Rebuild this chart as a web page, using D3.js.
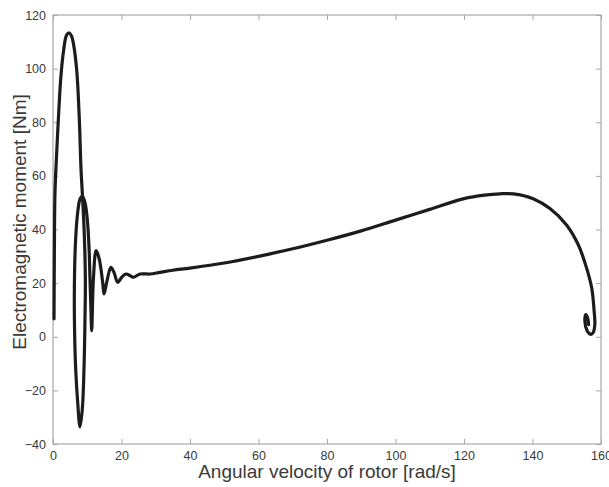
<!DOCTYPE html>
<html>
<head>
<meta charset="utf-8">
<script src="https://cdn.jsdelivr.net/npm/d3@7"></script>
<style>
  body { margin: 0; background: #fff; }
  svg { display: block; }
</style>
</head>
<body>
<svg id="chart" width="609" height="487"></svg>
<script>
// angular velocity of rotor [rad/s] in drawing order
const omega = [
  0.3, 0.4, 0.58, 1.08, 1.56, 2.24, 3.0, 4.0, 4.77, 5.45, 5.94, 6.91, 7.69, 8.18,
  8.66, 9.15, 9.45, 9.34, 9.05, 8.57, 7.88, 7.2, 6.62, 6.33, 6.23, 6.52, 7.1,
  7.88, 8.57, 9.34, 10.0, 10.5, 10.8, 11.1, 11.3, 11.8, 12.6, 13.5, 14.5, 14.9,
  15.7, 16.9, 17.8, 18.9, 20.1, 21.3, 22.5, 23.5, 25.4, 28.3, 31.2, 35, 40, 50,
  60, 70, 80, 90, 100, 110, 120, 126, 130.5, 134.4, 140.2, 145.1, 150, 153.4,
  155.8, 157.3, 158, 158.2, 157.7, 157, 156, 155.3, 155.6, 156.1, 156.4
];
// electromagnetic moment [Nm]
const torque = [
  6.7, 31.6, 53.8, 68.7, 81, 95.9, 105.8, 112.6, 113.3, 112, 109.5, 99.6, 81, 62.5,
  51.3, 37.7, 21.6, 6.7, -11.9, -26.8, -33.6, -24.3, -11.9, 0.5, 16.6, 33.9, 45.1,
  51.3, 52.5, 50, 43.9, 33.9, 21.6, 9.2, 2.3, 21.6, 32.1, 29, 20.3, 16,
  20.4, 25.9, 24, 20.3, 22.2, 23.4, 22.8, 22.2, 23.4, 23.4, 24, 24.8, 25.6, 27.5,
  30, 32.8, 36, 39.5, 43.5, 47.5, 51.5, 52.8, 53.3, 53.3, 51.5, 47.8, 41.6, 34.2,
  25.6, 18.1, 9.5, 4.6, 1.5, 0.9, 2.1, 5.8, 8.3, 7, 4.5
];
const xTicks = [0, 20, 40, 60, 80, 100, 120, 140, 160];
const yTicks = [-40, -20, 0, 20, 40, 60, 80, 100, 120];

const margin = { top: 15, right: 8, bottom: 43, left: 53 };
const width = 609, height = 487;
const innerWidth = width - margin.left - margin.right;
const innerHeight = height - margin.top - margin.bottom;

const svg = d3.select("#chart");
const g = svg.append("g")
  .attr("transform", `translate(${margin.left},${margin.top})`);

const x = d3.scaleLinear().domain([0, 160]).range([0, innerWidth]);
const y = d3.scaleLinear().domain([-40, 120]).range([innerHeight, 0]);

const axisColor = "#a8a8a8";
const labelColor = "#3a3a3a";

function styleAxis(sel) {
  sel.select(".domain").remove();
  sel.selectAll(".tick line").attr("stroke", axisColor);
  sel.selectAll("text")
    .attr("fill", labelColor)
    .style("font-family", "Liberation Sans, Arial, sans-serif")
    .style("font-size", "12.5px");
}

// bottom and left axes with inward ticks
g.append("g")
  .attr("transform", `translate(0,${innerHeight})`)
  .call(d3.axisBottom(x).tickValues(xTicks).tickSize(-5).tickPadding(7))
  .call(styleAxis);

g.append("g")
  .call(d3.axisLeft(y).tickValues(yTicks).tickSize(-5).tickPadding(7))
  .call(styleAxis);

// top and right axes: ticks only
g.append("g")
  .call(d3.axisTop(x).tickValues(xTicks).tickSize(-5).tickFormat(""))
  .call(styleAxis);

g.append("g")
  .attr("transform", `translate(${innerWidth},0)`)
  .call(d3.axisRight(y).tickValues(yTicks).tickSize(-5).tickFormat(""))
  .call(styleAxis);

g.append("rect")
  .attr("width", innerWidth)
  .attr("height", innerHeight)
  .attr("fill", "none")
  .attr("stroke", axisColor)
  .attr("stroke-width", 1.2);

const points = omega.map((w, i) => [w, torque[i]]);

const line = d3.line()
  .x(d => x(d[0]))
  .y(d => y(d[1]))
  .curve(d3.curveCatmullRom.alpha(0.5));

g.append("path")
  .datum(points)
  .attr("fill", "none")
  .attr("stroke", "#1c1c1c")
  .attr("stroke-width", 3.2)
  .attr("stroke-linejoin", "round")
  .attr("stroke-linecap", "round")
  .attr("d", line);

// axis titles
svg.append("text")
  .attr("x", margin.left + innerWidth / 2)
  .attr("y", 478)
  .attr("text-anchor", "middle")
  .attr("fill", labelColor)
  .style("font-family", "Liberation Sans, Arial, sans-serif")
  .style("font-size", "19px")
  .text("Angular velocity of rotor [rad/s]");

svg.append("text")
  .attr("transform", "translate(26,222) rotate(-90)")
  .attr("text-anchor", "middle")
  .attr("fill", labelColor)
  .style("font-family", "Liberation Sans, Arial, sans-serif")
  .style("font-size", "19px")
  .text("Electromagnetic moment [Nm]");
</script>
</body>
</html>
